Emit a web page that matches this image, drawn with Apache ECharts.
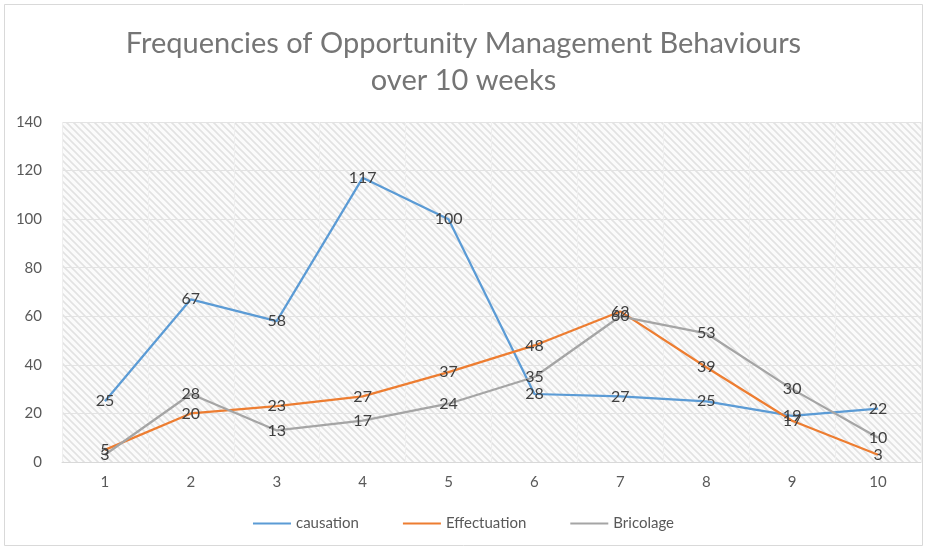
<!DOCTYPE html>
<html>
<head>
<meta charset="utf-8">
<script src="https://cdn.jsdelivr.net/npm/echarts@6/dist/echarts.min.js"></script>
<style>
html,body{margin:0;padding:0;background:#fff;}
#main{width:927px;height:550px;}
</style>
</head>
<body>
<div id="main"></div>
<script>
//数据
var weeks=['1','2','3','4','5','6','7','8','9','10'];
var causation=[25,67,58,117,100,28,27,25,19,22];
var effectuation=[5,20,23,27,37,48,62,39,17,3];
var bricolage=[3,28,13,17,24,35,60,53,30,10];

//斜线底纹
function hatch(){
    var c=document.createElement('canvas');
    c.width=7;c.height=7;
    var ctx=c.getContext('2d');
    ctx.fillStyle='#fbfbfb';
    ctx.fillRect(0,0,7,7);
    ctx.strokeStyle='#e2e2e2';
    ctx.lineWidth=1.6;
    ctx.beginPath();
    ctx.moveTo(0,0);ctx.lineTo(7,7);
    ctx.moveTo(-3.5,3.5);ctx.lineTo(3.5,10.5);
    ctx.moveTo(3.5,-3.5);ctx.lineTo(10.5,3.5);
    ctx.stroke();
    return c;
}

var font='Lato, "Open Sans", sans-serif';
function line(name,data,color){
    return {
        name:name,
        type:'line',
        data:data,
        symbol:'circle',
        symbolSize:0,
        showSymbol:true,
        lineStyle:{color:color,width:2.25},
        itemStyle:{color:color},
        label:{
            show:true,
            position:'inside',
            color:'#404040',
            fontSize:16,
            fontFamily:font
        }
    };
}

var myChart=echarts.init(document.getElementById('main'));
var option={
    backgroundColor:'#fff',
    animation:false,
    title:{
        text:'Frequencies of Opportunity Management Behaviours\nover 10 weeks',
        left:'center',
        top:20,
        textStyle:{color:'#757575',fontSize:29,fontWeight:'normal',fontFamily:font,lineHeight:37}
    },
    legend:{
        bottom:14,
        left:'center',
        itemWidth:38,
        itemHeight:2,
        itemGap:44,
        icon:'rect',
        textStyle:{color:'#595959',fontSize:15,fontFamily:font},
        data:['causation','Effectuation','Bricolage']
    },
    grid:{
        left:62,right:6,top:122,bottom:88,
        show:true,
        borderWidth:0,
        backgroundColor:{image:hatch(),repeat:'repeat'}
    },
    xAxis:{
        type:'category',
        data:weeks,
        boundaryGap:true,
        axisLine:{lineStyle:{color:'#d9d9d9'}},
        axisTick:{show:false},
        axisLabel:{color:'#595959',fontSize:15,fontFamily:font,margin:13},
        splitLine:{show:true,lineStyle:{color:'#efefef'}}
    },
    yAxis:{
        type:'value',
        min:0,max:140,interval:20,
        axisLine:{show:false},
        axisTick:{show:false},
        axisLabel:{color:'#595959',fontSize:15,fontFamily:font,margin:20},
        splitLine:{lineStyle:{color:'#e3e3e3'}}
    },
    graphic:[{
        type:'rect',
        shape:{x:4.5,y:4.5,width:918,height:541},
        style:{fill:'none',stroke:'#d9d9d9',lineWidth:1},
        silent:true
    }],
    series:[
        line('causation',causation,'#5B9BD5'),
        line('Effectuation',effectuation,'#ED7D31'),
        line('Bricolage',bricolage,'#A5A5A5')
    ]
};
myChart.setOption(option);
</script>
</body>
</html>
